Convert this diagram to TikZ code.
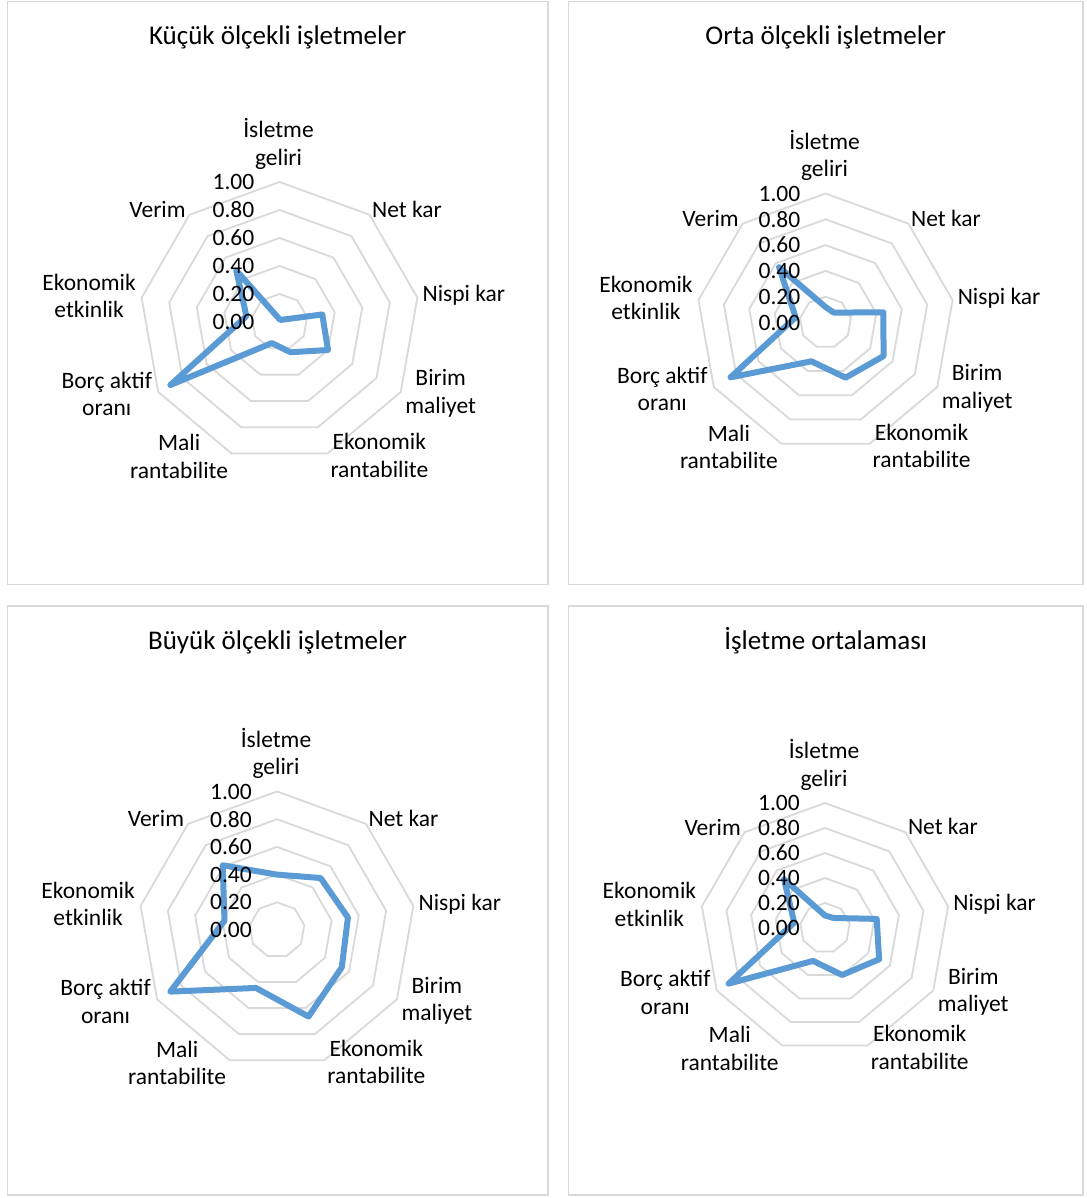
\documentclass[tikz,border=0pt]{standalone}
\usepackage{fontspec}
\setmainfont{Carlito}
\definecolor{gridgray}{HTML}{D9D9D9}
\definecolor{seriesblue}{HTML}{5B9BD5}
\newcommand\catfont{\fontsize{23.5}{27.5}\selectfont}
\newcommand\ttlfont{\fontsize{27}{32}\selectfont}

\tikzset{
  panelframe/.style={draw=gridgray, line width=1.6pt},
  gridring/.style={draw=gridgray, line width=1.8pt, line join=miter},
  seriesline/.style={draw=seriesblue, line width=6pt, line join=round},
  catlabel/.style={font=\catfont, align=center, inner sep=0pt, anchor=center},
  ticklabel/.style={font=\catfont, inner sep=0pt, anchor=east},
  charttitle/.style={font=\ttlfont, inner sep=0pt, anchor=base},
}

% Radar chart with nine axes, clockwise from the top.
% #1 id, #2 centre x, #3 centre y, #4 radius of the 1.00 ring, #5 values
\newcommand\radarchart[5]{%
  \foreach \k in {1,...,5}{
    \draw[gridring] ({#2}, {#3-#4*\k/5})
      \foreach \j in {1,...,8}{ -- ({#2+#4*\k/5*cos(90-40*\j)}, {#3-#4*\k/5*sin(90-40*\j)}) } -- cycle;
  }
  \foreach \v [count=\j from 0] in {#5}{
    \coordinate (#1-v\j) at ({#2+#4*\v*cos(90-40*\j)}, {#3-#4*\v*sin(90-40*\j)});
  }
  \draw[seriesline] (#1-v0) -- (#1-v1) -- (#1-v2) -- (#1-v3) -- (#1-v4)
    -- (#1-v5) -- (#1-v6) -- (#1-v7) -- (#1-v8) -- cycle;
  \foreach \k/\t in {0/0.00,1/0.20,2/0.40,3/0.60,4/0.80,5/1.00}{
    \node[ticklabel] (#1-tick\k) at ({#2-25}, {#3-#4*\k/5}) {\t};
  }
  \foreach \txt/\dx/\dy [count=\j from 0] in {
      {İsletme\\geliri}/-1/-38,
      {Net kar}/37.5/-5.5,
      {Nispi kar}/46.5/-2,
      {Birim\\maliyet}/40/1.5,
      {Ekonomik\\rantabilite}/52/2,
      {Mali\\rantabilite}/-52.5/3,
      {Borç aktif\\oranı}/-51.5/2,
      {Ekonomik\\etkinlik}/-52.5/-2,
      {Verim}/-32/-5}{
    \node[catlabel] (#1-cat\j) at ({#2+#4*cos(90-40*\j)+\dx}, {#3-#4*sin(90-40*\j)+\dy}) {\txt};
  }
}

\begin{document}
\begin{tikzpicture}[x=1pt, y=-1pt]
  \useasboundingbox[fill=white] (0,0) rectangle (1086,1198);

  % panel frames
  \draw[panelframe] (7.5,1.7) rectangle (547.7,584.3);
  \draw[panelframe] (568.3,1.7) rectangle (1083,584.3);
  \draw[panelframe] (7.5,605.7) rectangle (547.7,1195);
  \draw[panelframe] (568.3,605.7) rectangle (1083,1195);

  % titles
  \node[charttitle] (title-small) at (277.6,45) {Küçük ölçekli işletmeler};
  \node[charttitle] (title-medium) at (825.7,45) {Orta ölçekli işletmeler};
  \node[charttitle] (title-large) at (277.6,649) {Büyük ölçekli işletmeler};
  \node[charttitle] (title-mean) at (825.7,649) {İşletme ortalaması};

  % charts
  \radarchart{small}{279.5}{322}{140}{0.02,0.02,0.31,0.40,0.23,0.16,0.90,0.24,0.48}
  \radarchart{medium}{825.5}{322.5}{129}{0.12,0.10,0.455,0.52,0.455,0.32,0.85,0.235,0.56}
  \radarchart{large}{277}{930}{138.5}{0.40,0.49,0.52,0.54,0.665,0.445,0.89,0.385,0.61}
  \radarchart{mean}{825}{928}{125}{0.10,0.105,0.42,0.50,0.40,0.28,0.89,0.25,0.51}
\end{tikzpicture}
\end{document}
